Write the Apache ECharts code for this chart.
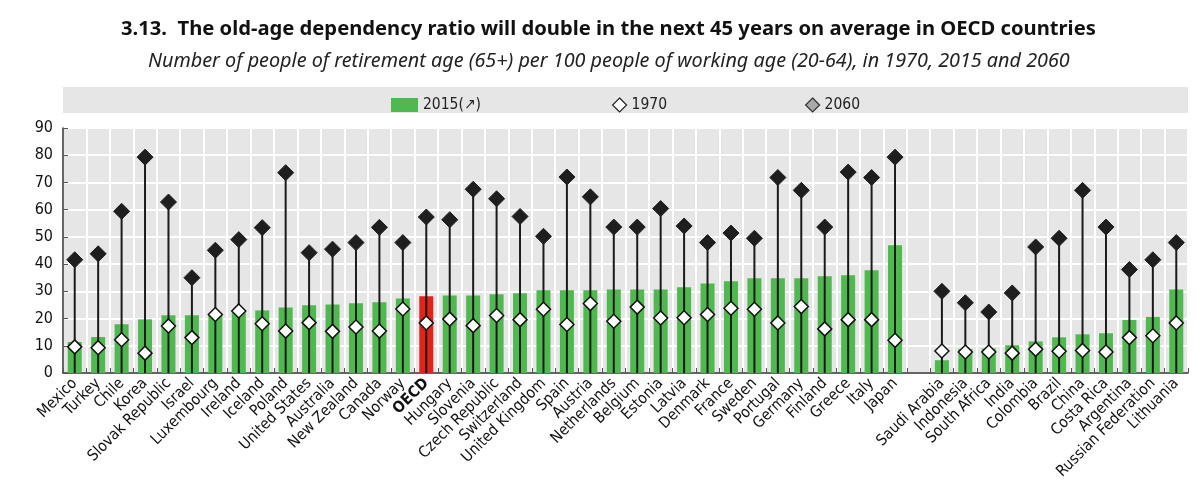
<!DOCTYPE html>
<html><head><meta charset="utf-8">
<script src="https://cdn.jsdelivr.net/npm/echarts@6/dist/echarts.min.js"></script>
<style>html,body{margin:0;padding:0;background:#fff}#c{width:1199px;height:487px}</style>
</head><body><div id="c"></div>
<script>
const categories = ['Mexico','Turkey','Chile','Korea','Slovak Republic','Israel','Luxembourg','Ireland','Iceland','Poland','United States','Australia','New Zealand','Canada','Norway','OECD','Hungary','Slovenia','Czech Republic','Switzerland','United Kingdom','Spain','Austria','Netherlands','Belgium','Estonia','Latvia','Denmark','France','Sweden','Portugal','Germany','Finland','Greece','Italy','Japan','','Saudi Arabia','Indonesia','South Africa','India','Colombia','Brazil','China','Costa Rica','Argentina','Russian Federation','Lithuania'];
const v2015 = [11.4,13.2,17.9,19.7,21.2,21.2,21.8,22.3,23.0,24.1,24.9,25.2,25.6,26.0,27.4,28.2,28.5,28.5,28.9,29.3,30.4,30.4,30.4,30.7,30.7,30.7,31.5,32.9,33.7,34.8,34.8,34.8,35.5,35.9,37.7,46.9,null,4.7,8.8,9.0,10.2,11.6,13.1,14.2,14.6,19.5,20.6,30.7];
const v1970 = [9.6,9.3,12.2,7.3,17.3,13.0,21.5,22.8,18.1,15.4,18.5,15.3,16.9,15.4,23.5,18.4,19.8,17.4,21.1,19.6,23.4,17.8,25.5,19.0,24.2,20.2,20.3,21.5,23.8,23.4,18.4,24.4,16.2,19.6,19.6,12.0,null,8.1,7.7,7.7,7.3,8.7,8.0,8.3,7.7,13.0,13.7,18.4];
const v2060 = [41.6,43.8,59.4,79.3,62.8,35.0,45.1,49.0,53.4,73.6,44.2,45.5,47.9,53.5,47.9,57.3,56.3,67.5,64.0,57.5,50.2,72.0,64.7,53.6,53.6,60.4,54.0,47.9,51.4,49.5,71.8,67.1,53.6,73.8,71.8,79.3,null,30.0,25.8,22.4,29.4,46.3,49.5,67.1,53.6,38.0,41.6,47.9];
const yTicks = [0,10,20,30,40,50,60,70,80,90];

const narrow = '"Liberation Sans Narrow","Arial Narrow","DejaVu Sans Condensed",sans-serif';
const GREEN = '#4fb84f', RED = '#e2231a';

const barData = v2015.map((v,i)=> v==null ? '-' : (categories[i]==='OECD' ? {value:v,itemStyle:{color:RED}} : v));
const lineData = [];
v2060.forEach((v,i)=>{ if(v!=null) lineData.push([i,v]); });
const d1970 = v1970.map(v=> v==null?'-':v);
const d2060 = v2060.map(v=> v==null?'-':v);

const chart = echarts.init(document.getElementById('c'));
chart.setOption({
  animation:false,
  title:[
    {text:'3.13.  The old-age dependency ratio will double in the next 45 years on average in OECD countries',left:121,top:19,padding:0,
     textStyle:{fontFamily:'"Noto Sans",sans-serif',fontWeight:'bold',fontSize:20.2,color:'#111'}},
    {text:'Number of people of retirement age (65+) per 100 people of working age (20-64), in 1970, 2015 and 2060',left:148,top:51,padding:0,
     textStyle:{fontFamily:'"Noto Sans",sans-serif',fontStyle:'italic',fontWeight:'normal',fontSize:19.8,color:'#222'}}
  ],
  graphic:[{type:'rect',shape:{x:63,y:87,width:1125,height:26},style:{fill:'#e6e6e6'},silent:true,z:-1}],
  legend:[
    {data:[{name:'2015(↗)',icon:'rect',itemStyle:{color:GREEN}}],left:386,top:92,itemWidth:27,itemHeight:14,itemGap:0,
     textStyle:{fontFamily:narrow,fontSize:15.5,color:'#222'}},
    {data:[{name:'1970',icon:'diamond',itemStyle:{color:'#fff',borderColor:'#222',borderWidth:1.2}}],left:607,top:92,itemWidth:14,itemHeight:14,
     textStyle:{fontFamily:narrow,fontSize:15.5,color:'#222'}},
    {data:[{name:'2060',icon:'diamond',itemStyle:{color:'#aaa',borderColor:'#333',borderWidth:1.2}}],left:800,top:92,itemWidth:14,itemHeight:14,
     textStyle:{fontFamily:narrow,fontSize:15.5,color:'#222'}}
  ],
  grid:{left:63,right:11,top:128,bottom:114,show:true,backgroundColor:'#e6e6e6',borderWidth:0},
  xAxis:{type:'category',data:categories,boundaryGap:true,
    axisLine:{show:true,lineStyle:{color:'#333',width:1.5}},
    axisTick:{show:true,inside:true,length:5,alignWithLabel:false,lineStyle:{color:'#555'}},
    splitLine:{show:true,lineStyle:{color:'#fff',width:2}},
    axisLabel:{interval:0,rotate:45,margin:8,fontFamily:narrow,fontSize:15.5,color:'#111',
      formatter:v=> v==='OECD' ? '{b|OECD}' : v,
      rich:{b:{fontWeight:'bold',fontFamily:narrow,fontSize:15.5,color:'#111'}}}
  },
  yAxis:{type:'value',min:0,max:90,interval:10,
    axisLine:{show:true,lineStyle:{color:'#333',width:1.5}},
    axisTick:{show:true,inside:true,length:5,lineStyle:{color:'#555'}},
    splitLine:{show:true,lineStyle:{color:'#fff',width:2}},
    axisLabel:{fontFamily:narrow,fontSize:16,color:'#111',margin:10}
  },
  series:[
    {name:'2015(↗)',type:'bar',data:barData,barWidth:14,itemStyle:{color:GREEN},z:2},
    {name:'line',type:'custom',data:lineData,z:3,
     renderItem:(params,api)=>{
       const p0=api.coord([api.value(0),0]);const p1=api.coord([api.value(0),api.value(1)]);
       return {type:'line',shape:{x1:p0[0],y1:p0[1],x2:p1[0],y2:p1[1]},style:{stroke:'#1a1a1a',lineWidth:2}};
     }},
    {name:'1970',type:'scatter',data:d1970,symbol:'diamond',symbolSize:[14,14],z:4,
     itemStyle:{color:'#fff',borderColor:'#111',borderWidth:1.5,opacity:1}},
    {name:'2060',type:'scatter',data:d2060,symbol:'diamond',symbolSize:[16,16],z:5,
     itemStyle:{color:'#1e1e1e',borderColor:'#1e1e1e',borderWidth:1,opacity:1}}
  ]
});
</script></body></html>
